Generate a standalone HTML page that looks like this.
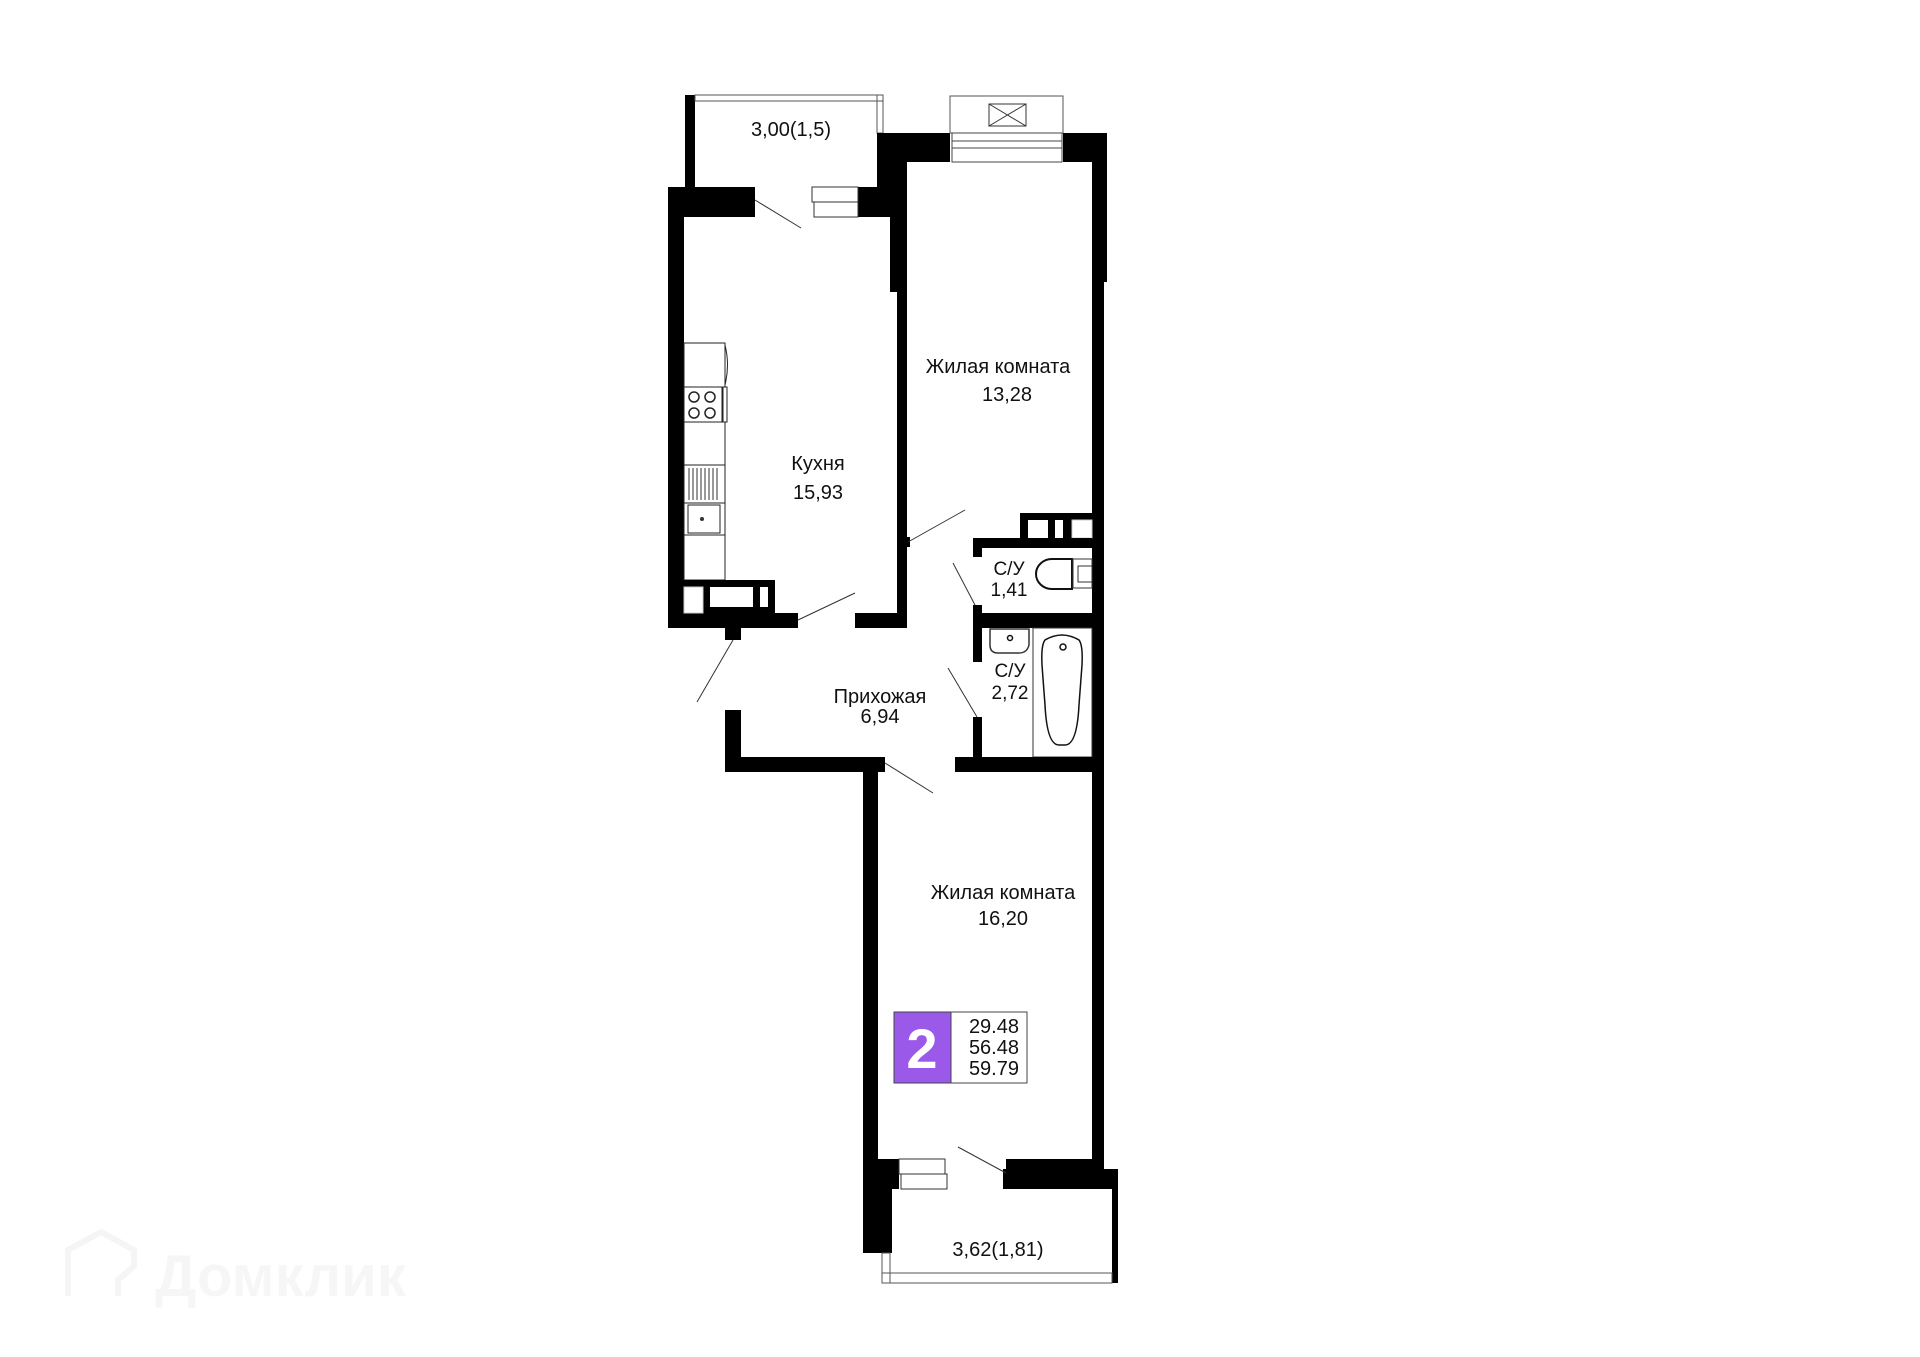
<!DOCTYPE html>
<html><head><meta charset="utf-8"><style>
html,body{margin:0;padding:0;background:#fff;}
svg{display:block;}
text{font-family:"Liberation Sans",sans-serif;fill:#111;}
</style></head><body>
<svg width="1920" height="1357" viewBox="0 0 1920 1357" xmlns="http://www.w3.org/2000/svg">
<!-- watermark -->
<g opacity="0.5">
<path d="M68 1296 V1250 L101 1232 L134 1250 V1266 L118 1280 V1296" fill="none" stroke="#ececec" stroke-width="6"/>
<text x="155" y="1296" font-size="58" font-weight="bold" style="fill:#efefef">Домклик</text>
</g>

<!-- top balcony -->
<rect x="685" y="95" width="10" height="92" fill="#000"/>
<rect x="695" y="95" width="188" height="6" fill="none" stroke="#555" stroke-width="1"/>
<rect x="877" y="95" width="6" height="38" fill="none" stroke="#555" stroke-width="1"/>
<text x="791" y="136" font-size="20" text-anchor="middle">3,00(1,5)</text>

<!-- kitchen walls -->
<rect x="668" y="187" width="87" height="30" fill="#000"/>
<rect x="668" y="187" width="16" height="441" fill="#000"/>
<rect x="857" y="187" width="33" height="30" fill="#000"/>
<rect x="877" y="133" width="73" height="29" fill="#000"/>
<rect x="877" y="133" width="30" height="84" fill="#000"/>
<rect x="890" y="133" width="17" height="159" fill="#000"/>
<rect x="897" y="133" width="10" height="495" fill="#000"/>
<rect x="812" y="187" width="46" height="15" fill="#fff" stroke="#333" stroke-width="1"/>
<rect x="814" y="202" width="44" height="15" fill="#fff" stroke="#333" stroke-width="1"/>
<line x1="755" y1="200" x2="801" y2="228" stroke="#333" stroke-width="1"/>
<!-- kitchen bottom -->
<rect x="668" y="613" width="130" height="15" fill="#000"/>
<rect x="855" y="613" width="52" height="15" fill="#000"/>
<rect x="725" y="628" width="16" height="12" fill="#000"/>
<line x1="798" y1="620" x2="855" y2="593" stroke="#333" stroke-width="1"/>
<!-- kitchen furniture -->
<g fill="#fff" stroke="#222" stroke-width="1">
<rect x="684" y="343" width="41" height="44"/>
<path d="M725 345 q5 20 0 40" fill="none"/>
<rect x="684" y="387" width="38" height="35"/>
<rect x="684" y="422" width="41" height="43"/>
<rect x="684" y="465" width="41" height="38"/>
<rect x="684" y="503" width="41" height="32"/>
<rect x="688" y="505" width="32" height="28"/>
<rect x="684" y="535" width="41" height="45"/>
</g>
<g fill="none" stroke="#222" stroke-width="1.5">
<circle cx="694" cy="397" r="5"/><circle cx="710" cy="397" r="5"/>
<circle cx="694" cy="413" r="5"/><circle cx="710" cy="413" r="5"/>
</g>
<g stroke="#333" stroke-width="1">
<line x1="689" y1="468" x2="689" y2="500"/><line x1="693" y1="468" x2="693" y2="500"/><line x1="697" y1="468" x2="697" y2="500"/><line x1="701" y1="468" x2="701" y2="500"/><line x1="705" y1="468" x2="705" y2="500"/><line x1="709" y1="468" x2="709" y2="500"/><line x1="713" y1="468" x2="713" y2="500"/><line x1="717" y1="468" x2="717" y2="500"/>
</g>
<circle cx="702" cy="519" r="2" fill="#333"/>
<rect x="723" y="387" width="4" height="35" fill="#fff" stroke="#222"/>
<rect x="684" y="580" width="91" height="33" fill="#000"/>
<rect x="710" y="587" width="43" height="20" fill="#fff"/>
<rect x="760" y="587" width="8" height="20" fill="#fff"/>
<rect x="684" y="587" width="19" height="26" fill="#fff" stroke="#ccc" stroke-width="1"/>
<text x="818" y="470" font-size="20" text-anchor="middle">Кухня</text>
<text x="818" y="499" font-size="20" text-anchor="middle">15,93</text>

<!-- room 1 window / top -->
<rect x="950" y="96" width="113" height="37" fill="none" stroke="#555" stroke-width="1"/>
<rect x="989" y="104" width="37" height="22" fill="none" stroke="#333" stroke-width="1"/>
<line x1="989" y1="104" x2="1026" y2="126" stroke="#333"/><line x1="1026" y1="104" x2="989" y2="126" stroke="#333"/>
<rect x="952" y="133" width="110" height="29" fill="#fff" stroke="#444" stroke-width="1"/>
<line x1="952" y1="141" x2="1062" y2="141" stroke="#444"/>
<line x1="952" y1="148" x2="1062" y2="148" stroke="#444"/>
<rect x="1063" y="133" width="44" height="29" fill="#000"/>
<rect x="1092" y="133" width="15" height="149" fill="#000"/>
<rect x="1092" y="133" width="12" height="1056" fill="#000"/>
<text x="998" y="373" font-size="20" text-anchor="middle">Жилая комната</text>
<text x="1007" y="401" font-size="20" text-anchor="middle">13,28</text>
<rect x="905" y="537" width="5" height="10" fill="#000"/>
<line x1="908" y1="542" x2="965" y2="510" stroke="#333" stroke-width="1"/>

<!-- bathrooms -->
<rect x="1020" y="513" width="72" height="25" fill="#000"/>
<rect x="1028" y="520" width="20" height="18" fill="#fff"/>
<rect x="1055" y="520" width="8" height="18" fill="#fff"/>
<rect x="1072" y="520" width="20" height="18" fill="#fff" stroke="#ccc"/>
<rect x="973" y="538" width="119" height="10" fill="#000"/>
<rect x="973" y="538" width="9" height="19" fill="#000"/>
<line x1="953" y1="563" x2="975" y2="605" stroke="#333"/>
<rect x="973" y="605" width="9" height="57" fill="#000"/>
<rect x="973" y="613" width="119" height="15" fill="#000"/>
<path d="M1072 559 H1052 a16 15 0 0 0 0 30 H1072 Z" fill="#fff" stroke="#111" stroke-width="2"/>
<rect x="1073" y="559" width="19" height="29" fill="#fff" stroke="#333"/>
<rect x="1078" y="566" width="14" height="16" fill="#fff" stroke="#333"/>
<text x="1009" y="575" font-size="19" text-anchor="middle">С/У</text>
<text x="1009" y="596" font-size="19" text-anchor="middle">1,41</text>
<path d="M990 629 H1029 V645 q-2 8 -10 8 H998 q-8 0 -8 -8 Z" fill="#fff" stroke="#333" stroke-width="1.5"/>
<circle cx="1010" cy="638" r="2.5" fill="none" stroke="#111" stroke-width="1.5"/>
<rect x="1033" y="628" width="59" height="129" fill="#fff" stroke="#333"/>
<path d="M1045 640 q17 -10 34 0 q4 5 3 25 l-3 40 q-2 40 -14 40 h-6 q-12 0 -14 -40 l-3 -40 q-1 -20 3 -25 Z" fill="none" stroke="#111" stroke-width="1.5"/>
<circle cx="1063" cy="647" r="3" fill="none" stroke="#111" stroke-width="1.5"/>
<text x="1010" y="677" font-size="19" text-anchor="middle">С/У</text>
<text x="1010" y="699" font-size="19" text-anchor="middle">2,72</text>
<line x1="948" y1="668" x2="977" y2="717" stroke="#333"/>
<rect x="973" y="717" width="9" height="40" fill="#000"/>

<!-- hall -->
<line x1="733" y1="640" x2="697" y2="702" stroke="#333"/>
<text x="880" y="703" font-size="20" text-anchor="middle">Прихожая</text>
<text x="880" y="723" font-size="20" text-anchor="middle">6,94</text>
<rect x="725" y="710" width="16" height="62" fill="#000"/>
<rect x="725" y="757" width="160" height="15" fill="#000"/>
<rect x="955" y="757" width="149" height="15" fill="#000"/>
<line x1="885" y1="763" x2="933" y2="793" stroke="#333"/>

<!-- bedroom 2 -->
<rect x="863" y="757" width="15" height="496" fill="#000"/>
<rect x="863" y="1159" width="36" height="30" fill="#000"/>
<rect x="863" y="1159" width="29" height="94" fill="#000"/>
<rect x="899" y="1159" width="46" height="15" fill="#fff" stroke="#333"/>
<rect x="901" y="1174" width="46" height="15" fill="#fff" stroke="#333"/>
<rect x="1006" y="1159" width="98" height="21" fill="#000"/>
<rect x="1003" y="1169" width="115" height="20" fill="#000"/>
<rect x="1112" y="1169" width="6" height="114" fill="#000"/>
<line x1="958" y1="1147" x2="1006" y2="1173" stroke="#333"/>
<rect x="882" y="1273" width="230" height="10" fill="none" stroke="#555"/>
<rect x="882" y="1253" width="8" height="30" fill="none" stroke="#555"/>
<text x="1003" y="899" font-size="20" text-anchor="middle">Жилая комната</text>
<text x="1003" y="925" font-size="20" text-anchor="middle">16,20</text>
<text x="998" y="1256" font-size="20" text-anchor="middle">3,62(1,81)</text>

<!-- badge -->
<rect x="894" y="1012" width="57" height="71" fill="#9b59ea" stroke="#444" stroke-width="1"/>
<rect x="951" y="1012" width="76" height="71" fill="#fff" stroke="#444" stroke-width="1"/>
<text x="922" y="1068" font-size="56" font-weight="bold" text-anchor="middle" style="fill:#fff">2</text>
<text x="1019" y="1033" font-size="20" text-anchor="end">29.48</text>
<text x="1019" y="1054" font-size="20" text-anchor="end">56.48</text>
<text x="1019" y="1075" font-size="20" text-anchor="end">59.79</text>
</svg>
</body></html>
